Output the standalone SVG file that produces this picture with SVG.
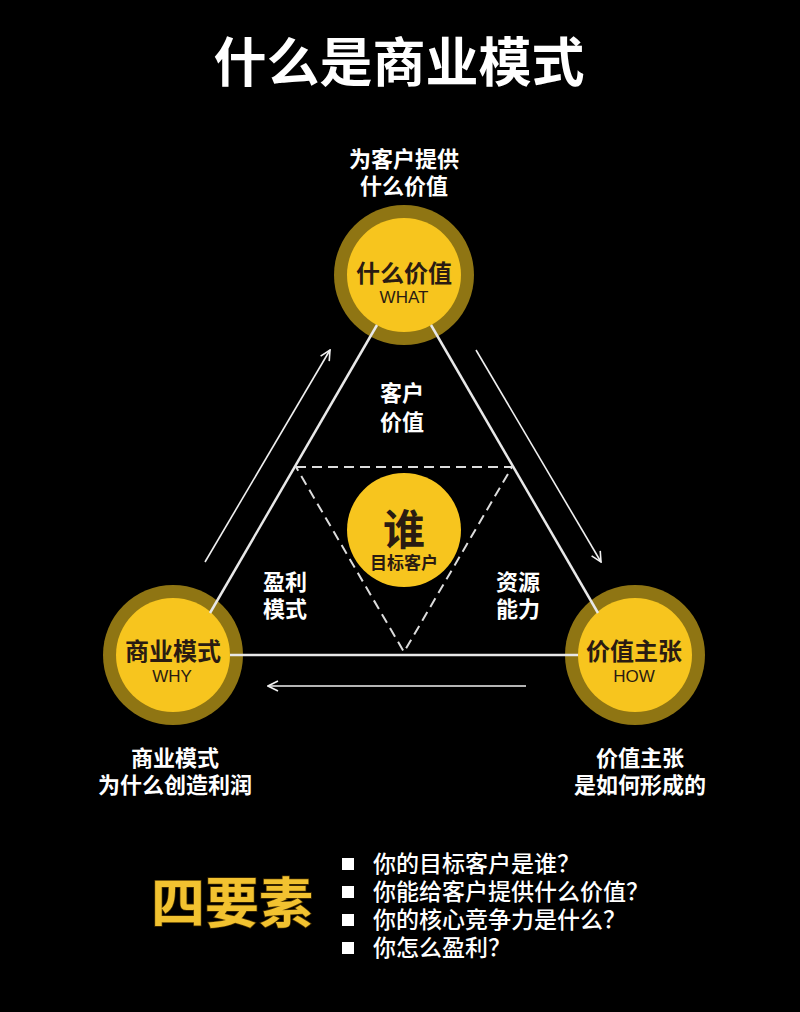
<svg xmlns="http://www.w3.org/2000/svg" width="800" height="1012" viewBox="0 0 800 1012">
<defs>
<style>
.t{font-family:"Noto Sans CJK SC","Noto Sans",sans-serif;font-weight:700;text-anchor:middle}
.w{fill:#ffffff}
.dk{fill:#2a1b12}
.en{font-family:"Liberation Sans","Noto Sans",sans-serif;font-weight:400;text-anchor:middle;fill:#2a1b12}
.ring{fill:#8f7513}
.core{fill:#f7c51e}
.solid{stroke:#e8e8e8;stroke-width:2.5;fill:none}
.dash{stroke:#dcdcdc;stroke-width:2;fill:none;stroke-dasharray:10 6}
.arr{stroke:#f0f0f0;stroke-width:1.6;fill:none;marker-end:url(#ah)}
.li{font-family:"Noto Sans CJK SC","Noto Sans",sans-serif;font-weight:500;fill:#ffffff;font-size:23px}
</style>
<marker id="ah" viewBox="0 0 12 12" refX="11" refY="6" markerWidth="12" markerHeight="12" markerUnits="userSpaceOnUse" orient="auto">
<path d="M1,1 L11,6 L1,11" fill="none" stroke="#f0f0f0" stroke-width="1.6"/>
</marker>
</defs>
<rect width="800" height="1012" fill="#000"/>

<text class="t w" x="399" y="82" font-size="53">什么是商业模式</text>

<text class="t w" x="404" y="167" font-size="22">为客户提供</text>
<text class="t w" x="404" y="194" font-size="22">什么价值</text>

<g id="node-what">
<circle class="ring" cx="404" cy="275" r="70"/>
<circle class="core" cx="404" cy="275" r="57"/>
<text class="t dk" x="404" y="282" font-size="24">什么价值</text>
<text class="en" x="404" y="303" font-size="17">WHAT</text>
</g>

<g id="node-why">
<circle class="ring" cx="173" cy="655" r="70"/>
<circle class="core" cx="173" cy="655" r="57"/>
<text class="t dk" x="173" y="660" font-size="24">商业模式</text>
<text class="en" x="172" y="682" font-size="17">WHY</text>
</g>

<g id="node-how">
<circle class="ring" cx="635" cy="655" r="70"/>
<circle class="core" cx="635" cy="655" r="57"/>
<text class="t dk" x="634" y="660" font-size="24">价值主张</text>
<text class="en" x="634" y="682" font-size="17">HOW</text>
</g>

<g id="connectors">
<line class="solid" x1="377" y1="325" x2="210" y2="613"/>
<line class="solid" x1="431" y1="325" x2="598" y2="613"/>
<line class="solid" x1="230" y1="655" x2="578" y2="655"/>
<path class="dash" d="M296,467 L512,467 L404,652 Z" stroke-linejoin="round"/>
<line class="arr" x1="205" y1="562" x2="330" y2="350"/>
<line class="arr" x1="476" y1="350" x2="601" y2="562"/>
<line class="arr" x1="526" y1="686" x2="268" y2="686"/>
</g>

<g id="node-who">
<circle class="core" cx="404" cy="530" r="57"/>
<text class="t dk" x="404" y="545" font-size="42">谁</text>
<text class="t dk" x="404" y="569" font-size="17">目标客户</text>
</g>

<text class="t w" x="402" y="401" font-size="22">客户</text>
<text class="t w" x="402" y="430" font-size="22">价值</text>

<text class="t w" x="285" y="590" font-size="22">盈利</text>
<text class="t w" x="285" y="617" font-size="22">模式</text>

<text class="t w" x="518" y="590" font-size="22">资源</text>
<text class="t w" x="518" y="617" font-size="22">能力</text>

<text class="t w" x="175" y="766" font-size="22">商业模式</text>
<text class="t w" x="175" y="793" font-size="22">为什么创造利润</text>

<text class="t w" x="640" y="766" font-size="22">价值主张</text>
<text class="t w" x="640" y="793" font-size="22">是如何形成的</text>

<text class="t" x="232" y="923" font-size="54" fill="#f2c230" stroke="#4a3200" stroke-width="1.5" paint-order="stroke">四要素</text>

<g fill="#ffffff">
<rect x="342" y="858" width="12" height="12"/>
<rect x="342" y="886" width="12" height="12"/>
<rect x="342" y="914" width="12" height="12"/>
<rect x="342" y="942" width="12" height="12"/>
</g>
<text class="li" x="373" y="872">你的目标客户是谁？</text>
<text class="li" x="373" y="900">你能给客户提供什么价值？</text>
<text class="li" x="373" y="928">你的核心竞争力是什么？</text>
<text class="li" x="373" y="956">你怎么盈利？</text>
</svg>
